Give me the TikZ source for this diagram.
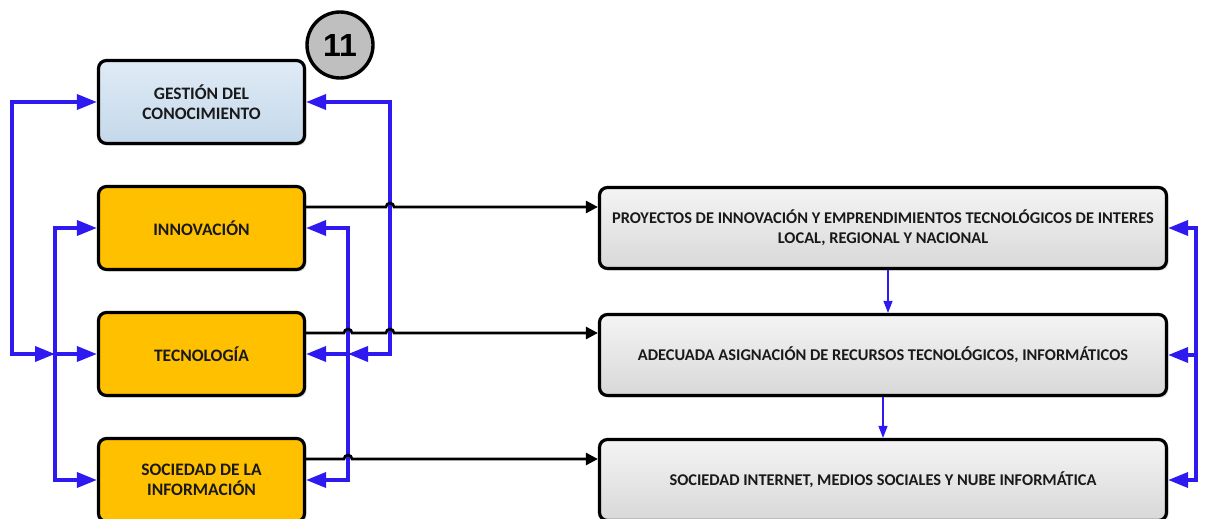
\documentclass[tikz,border=0pt]{standalone}
\usepackage{fontspec}
\setmainfont{Carlito}
\newfontfamily\numfont{Liberation Sans}
\usetikzlibrary{arrows.meta,shadows}
\definecolor{lnblue}{RGB}{46,26,240}
\definecolor{boxorange}{RGB}{255,192,0}
\definecolor{gesttop}{RGB}{224,235,246}
\definecolor{gestbot}{RGB}{196,216,234}
\definecolor{greytop}{RGB}{244,244,244}
\definecolor{greybot}{RGB}{216,216,216}
\definecolor{badge}{RGB}{191,191,191}
\tikzset{
  btip/.tip={Triangle[length=20pt,width=15pt]},
  ktip/.tip={Triangle[length=12pt,width=12pt]},
  stip/.tip={Triangle[length=12pt,width=9pt]},
}
\begin{document}
\begin{tikzpicture}[x=1pt,y=-1pt,
  box/.style={draw=black, line width=3.2pt, rounded corners=8pt, align=center,
    inner sep=2pt, text=black!90,
    drop shadow={shadow xshift=2pt,shadow yshift=-2pt,opacity=0.25}},
  leftbox/.style={box, minimum width=206pt, minimum height=83pt,
    font=\bfseries\fontsize{17.5}{20}\selectfont},
  rightbox/.style={box, minimum width=567pt, minimum height=81pt,
    font=\bfseries\fontsize{16.4}{20}\selectfont,
    top color=greytop, bottom color=greybot},
  orangebox/.style={leftbox, fill=boxorange},
  bl/.style={draw=lnblue, line width=3.6pt},
  blk/.style={draw=black, line width=2.6pt, -ktip},
  thin/.style={draw=lnblue, line width=1.4pt, -stip},
]
\useasboundingbox (0,0) rectangle (1224,519);

% left column
\node[leftbox, top color=gesttop, bottom color=gestbot] (gest) at (201.5,102) {GESTIÓN DEL\\CONOCIMIENTO};
\node[orangebox] (innov) at (201.5,228) {INNOVACIÓN};
\node[orangebox] (tec) at (201.5,354) {TECNOLOGÍA};
\node[orangebox] (soc) at (201.5,480) {SOCIEDAD DE LA\\INFORMACIÓN};

% badge
\node[circle, draw=black, line width=3.4pt, fill=badge, minimum size=66pt,
  font=\numfont\bfseries\fontsize{32}{32}\selectfont] (badge) at (340,45) {11};

% right column
\node[rightbox] (proj) at (883,228) {PROYECTOS DE INNOVACIÓN Y EMPRENDIMIENTOS TECNOLÓGICOS DE INTERES\\LOCAL, REGIONAL Y NACIONAL};
\node[rightbox] (adec) at (883,355) {ADECUADA ASIGNACIÓN DE RECURSOS TECNOLÓGICOS, INFORMÁTICOS};
\node[rightbox] (soc2) at (883,480) {SOCIEDAD INTERNET, MEDIOS SOCIALES Y NUBE INFORMÁTICA};

% feedback loops on the left
\coordinate (lo) at (12,0);
\coordinate (li) at (55,0);
\draw[bl, btip-btip] (li |- tec.west) -- (lo |- tec.west) -- (lo |- gest.west) -- (gest.west);
\draw[bl, btip-btip] (innov.west) -- (li |- innov.west) -- (li |- soc.west) -- (soc.west);
\draw[bl, -btip] (li |- tec.west) -- (tec.west);

% feedback loops between the columns
\coordinate (ro) at (390,0);
\coordinate (ri) at (348,0);
\draw[bl, btip-btip] (ri |- tec.east) -- (ro |- tec.east) -- (ro |- gest.east) -- (gest.east);
\draw[bl, btip-btip] (innov.east) -- (ri |- innov.east) -- (ri |- soc.east) -- (soc.east);
\draw[bl, -btip] (ri |- tec.east) -- (tec.east);

% feedback loop on the right
\coordinate (rr) at (1196,0);
\draw[bl, btip-btip] (proj.east) -- (rr |- proj.east) -- (rr |- soc2.east) -- (soc2.east);
\draw[bl, -btip] (rr |- adec.east) -- (adec.east);

% flow down the right column
\draw[thin] ([xshift=5pt]proj.south) -- ([xshift=5pt]adec.north);
\draw[thin] (adec.south) -- (soc2.north);

% main links, hopping over the loops
\coordinate (s1) at ([yshift=21pt]innov.east);
\coordinate (s2) at ([yshift=21pt]tec.east);
\coordinate (s3) at ([yshift=21pt]soc.east);
\draw[blk] (s1) -- ([xshift=-4pt]ro |- s1)
  arc[start angle=180,end angle=0,radius=4pt] -- (s1 -| proj.west);
\draw[blk] (s2) -- ([xshift=-4pt]ri |- s2)
  arc[start angle=180,end angle=0,radius=4pt] -- ([xshift=-4pt]ro |- s2)
  arc[start angle=180,end angle=0,radius=4pt] -- (s2 -| adec.west);
\draw[blk] (s3) -- ([xshift=-4pt]ri |- s3)
  arc[start angle=180,end angle=0,radius=4pt] -- (s3 -| soc2.west);
\end{tikzpicture}
\end{document}
